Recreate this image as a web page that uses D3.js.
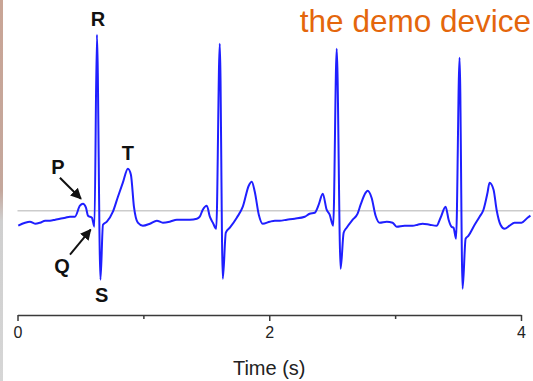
<!DOCTYPE html>
<html>
<head>
<meta charset="utf-8">
<script src="https://cdn.jsdelivr.net/npm/d3@7"></script>
<style>
  body { margin: 0; background: #fff; }
  svg { display: block; }
</style>
</head>
<body>
<div id="ecg"></div>
<script>
// ECG trace (time in s, amplitude in mV, 0 = grey baseline)
const timeS = [
  0.006, 0.060, 0.099, 0.140, 0.179, 0.220, 0.258, 0.300, 0.337, 0.380, 0.417, 0.456, 0.496, 0.520, 0.544, 0.560, 0.591, 0.611, 0.631, 0.659,
  0.679, 0.710, 0.758, 0.798, 0.837, 0.877, 0.901, 0.925, 0.956, 0.996, 1.052,
  1.107, 1.155, 1.210, 1.266, 1.313, 1.369, 1.425, 1.448, 1.472, 1.504, 1.528, 1.552, 1.579, 1.607, 1.631,
  1.655, 1.687, 1.742, 1.790, 1.837, 1.861, 1.885, 1.917, 1.948, 2.004, 2.045, 2.083, 2.140, 2.202, 2.282,
  2.321, 2.361, 2.393, 2.425, 2.456, 2.480, 2.508, 2.536, 2.567,
  2.591, 2.615, 2.663, 2.702, 2.726, 2.766, 2.782, 2.813, 2.845, 2.877, 2.933, 2.980, 3.012, 3.075,
  3.139, 3.179, 3.218, 3.274, 3.329, 3.361, 3.401, 3.425, 3.448, 3.464, 3.484, 3.512, 3.536,
  3.560, 3.583, 3.623, 3.671, 3.702, 3.734, 3.750, 3.782, 3.806, 3.837, 3.869, 3.909, 3.948, 4.004, 4.052, 4.075
];
const ecgMv = [
  -0.15, -0.12, -0.11, -0.13, -0.12, -0.10, -0.10, -0.09, -0.08, -0.07, -0.06, -0.06, 0.05, 0.07, 0.03, -0.05, -0.07, -0.16, 1.76, -0.69,
  -0.14, -0.11, -0.01, 0.14, 0.28, 0.42, 0.36, 0.04, -0.12, -0.15, -0.13,
  -0.10, -0.12, -0.11, -0.09, -0.09, -0.09, -0.08, -0.06, 0.01, 0.05, -0.06, -0.12, -0.18, 1.67, -0.68,
  -0.22, -0.17, -0.07, 0.04, 0.25, 0.29, 0.19, -0.04, -0.13, -0.11, -0.10, -0.10, -0.09, -0.08, -0.06,
  -0.03, -0.02, 0.06, 0.17, 0.01, -0.04, -0.15, 1.62, -0.58,
  -0.22, -0.17, -0.09, -0.03, 0.06, 0.18, 0.20, 0.13, -0.05, -0.12, -0.11, -0.12, -0.16, -0.15,
  -0.15, -0.14, -0.13, -0.14, -0.15, -0.07, 0.04, -0.09, -0.16, -0.17, -0.28, 1.53, -0.78,
  -0.28, -0.25, -0.16, -0.06, 0.01, 0.18, 0.28, 0.21, 0.01, -0.14, -0.18, -0.15, -0.12, -0.12, -0.07, -0.05
];
const majorTicks = [0, 2, 4];
const minorTicks = [1, 3];
const xTitle = "Time (s)";
const cornerText = "the demo device";

const W = 533, H = 381;

const svg = d3.select("#ecg").append("svg")
  .attr("width", W)
  .attr("height", H);

// thin strip on the left edge of the picture
const defs = svg.append("defs");
const grad = defs.append("linearGradient")
  .attr("id", "edge").attr("x1", 0).attr("y1", 0).attr("x2", 0).attr("y2", 1);
grad.append("stop").attr("offset", "0%").attr("stop-color", "#c9a596");
grad.append("stop").attr("offset", "50%").attr("stop-color", "#c4a79c");
grad.append("stop").attr("offset", "58%").attr("stop-color", "#cfcfcf");
grad.append("stop").attr("offset", "100%").attr("stop-color", "#d6d6d6");
svg.append("rect").attr("x", 0).attr("y", 0).attr("width", 3).attr("height", H).attr("fill", "url(#edge)");

let x = d3.scaleLinear().domain([0, 4]).range([17.5, 521]);
let y = d3.scaleLinear().domain([-1, 2]).range([310.7, 10.7]);

// baseline
svg.append("line")
  .attr("x1", x(0)).attr("x2", W)
  .attr("y1", y(0)).attr("y2", y(0))
  .attr("stroke", "#cccccc")
  .attr("stroke-width", 1.5);

// trace
const points = timeS.map((t, i) => [t, ecgMv[i]]);
const line = d3.line()
  .curve(d3.curveMonotoneX)
  .x(d => x(d[0]))
  .y(d => y(d[1]));

svg.append("path")
  .datum(points)
  .attr("d", line)
  .attr("fill", "none")
  .attr("stroke", "#1f1fff")
  .attr("stroke-width", 2)
  .attr("stroke-linejoin", "round");

// x axis
const axisY = 315;
const gMinor = svg.append("g").attr("transform", "translate(0," + axisY + ")")
  .call(d3.axisBottom(x).tickValues(minorTicks).tickSize(4).tickSizeOuter(0).tickFormat(""));
const gMajor = svg.append("g").attr("transform", "translate(0," + axisY + ")")
  .call(d3.axisBottom(x).tickValues(majorTicks).tickSize(6).tickSizeOuter(0).tickFormat(d3.format("d")).tickPadding(6));

[gMinor, gMajor].forEach(g => {
  g.selectAll("path, line").attr("stroke", "#3a3a3a").attr("stroke-width", 1.5);
});
gMinor.select(".domain").remove();
gMajor.selectAll("text")
  .attr("fill", "#222")
  .style("font-family", "'Liberation Sans', Arial, sans-serif")
  .style("font-size", "16px");

svg.append("text")
  .attr("x", x(2))
  .attr("y", 375)
  .attr("text-anchor", "middle")
  .attr("fill", "#222")
  .style("font-family", "'Liberation Sans', Arial, sans-serif")
  .style("font-size", "20px")
  .text(xTitle);

// corner title
svg.append("text")
  .attr("x", 531)
  .attr("y", 32)
  .attr("text-anchor", "end")
  .attr("fill", "#e4660c")
  .style("font-family", "'Liberation Sans', Arial, sans-serif")
  .style("font-size", "31.5px")
  .text(cornerText);

// wave letters (placed in data coordinates)
const letters = [
  { k: "P", t: 0.321, v: 0.44 },
  { k: "Q", t: 0.353, v: -0.55 },
  { k: "R", t: 0.639, v: 1.92 },
  { k: "S", t: 0.668, v: -0.84 },
  { k: "T", t: 0.877, v: 0.58 }
];
svg.selectAll(".wave")
  .data(letters)
  .enter().append("text")
  .attr("class", "wave")
  .attr("x", d => x(d.t))
  .attr("y", d => y(d.v))
  .attr("dy", "0.36em")
  .attr("text-anchor", "middle")
  .attr("fill", "#111")
  .style("font-family", "'Liberation Sans', Arial, sans-serif")
  .style("font-weight", "bold")
  .style("font-size", "20px")
  .text(d => d.k);

// arrows for P and Q
defs.append("marker")
  .attr("id", "head")
  .attr("viewBox", "0 0 10 10")
  .attr("refX", 9).attr("refY", 5)
  .attr("markerWidth", 5.5).attr("markerHeight", 5.5)
  .attr("orient", "auto")
  .append("path")
  .attr("d", "M0,0L10,5L0,10z")
  .attr("fill", "#111");

const arrows = [
  { t1: 0.337, v1: 0.33, t2: 0.504, v2: 0.12 },
  { t1: 0.417, v1: -0.44, t2: 0.581, v2: -0.19 }
];
svg.selectAll(".arrow")
  .data(arrows)
  .enter().append("line")
  .attr("class", "arrow")
  .attr("x1", d => x(d.t1)).attr("y1", d => y(d.v1))
  .attr("x2", d => x(d.t2)).attr("y2", d => y(d.v2))
  .attr("stroke", "#111")
  .attr("stroke-width", 2)
  .attr("marker-end", "url(#head)");
</script>
</body>
</html>
